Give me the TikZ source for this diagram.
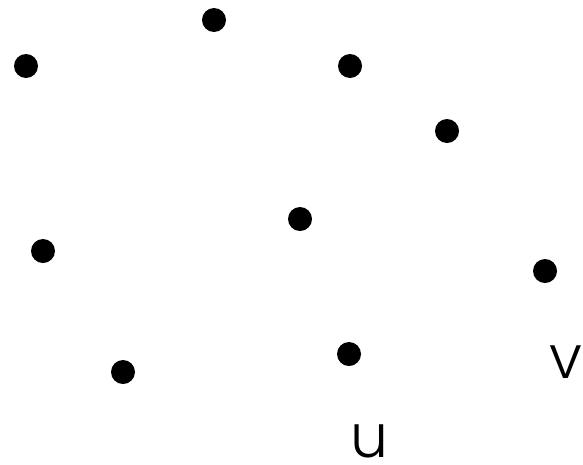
\documentclass[tikz,border=0pt]{standalone}
\usepackage{fontspec}
\setmainfont{Poppins}[UprightFont=* Light]
\begin{document}
\begin{tikzpicture}[x=1pt,y=-1pt,
  vtx/.style={circle,fill=black,inner sep=0pt,minimum size=24pt},
  lbl/.style={inner sep=0pt,font=\fontsize{60}{60}\selectfont}]
\useasboundingbox (0,0) rectangle (583,464);
\node[vtx] (a) at (214,20) {};
\node[vtx] (b) at (26,66) {};
\node[vtx] (c) at (350,66) {};
\node[vtx] (d) at (447,131) {};
\node[vtx] (e) at (300,219) {};
\node[vtx] (f) at (43,251) {};
\node[vtx] (g) at (545,271) {};
\node[vtx] (h) at (349,354) {};
\node[vtx] (i) at (123,372) {};
\node[lbl,anchor=base] (v) at (566,378) {v};
\node[lbl,anchor=base] (u) at (369,457) {u};
\end{tikzpicture}
\end{document}
